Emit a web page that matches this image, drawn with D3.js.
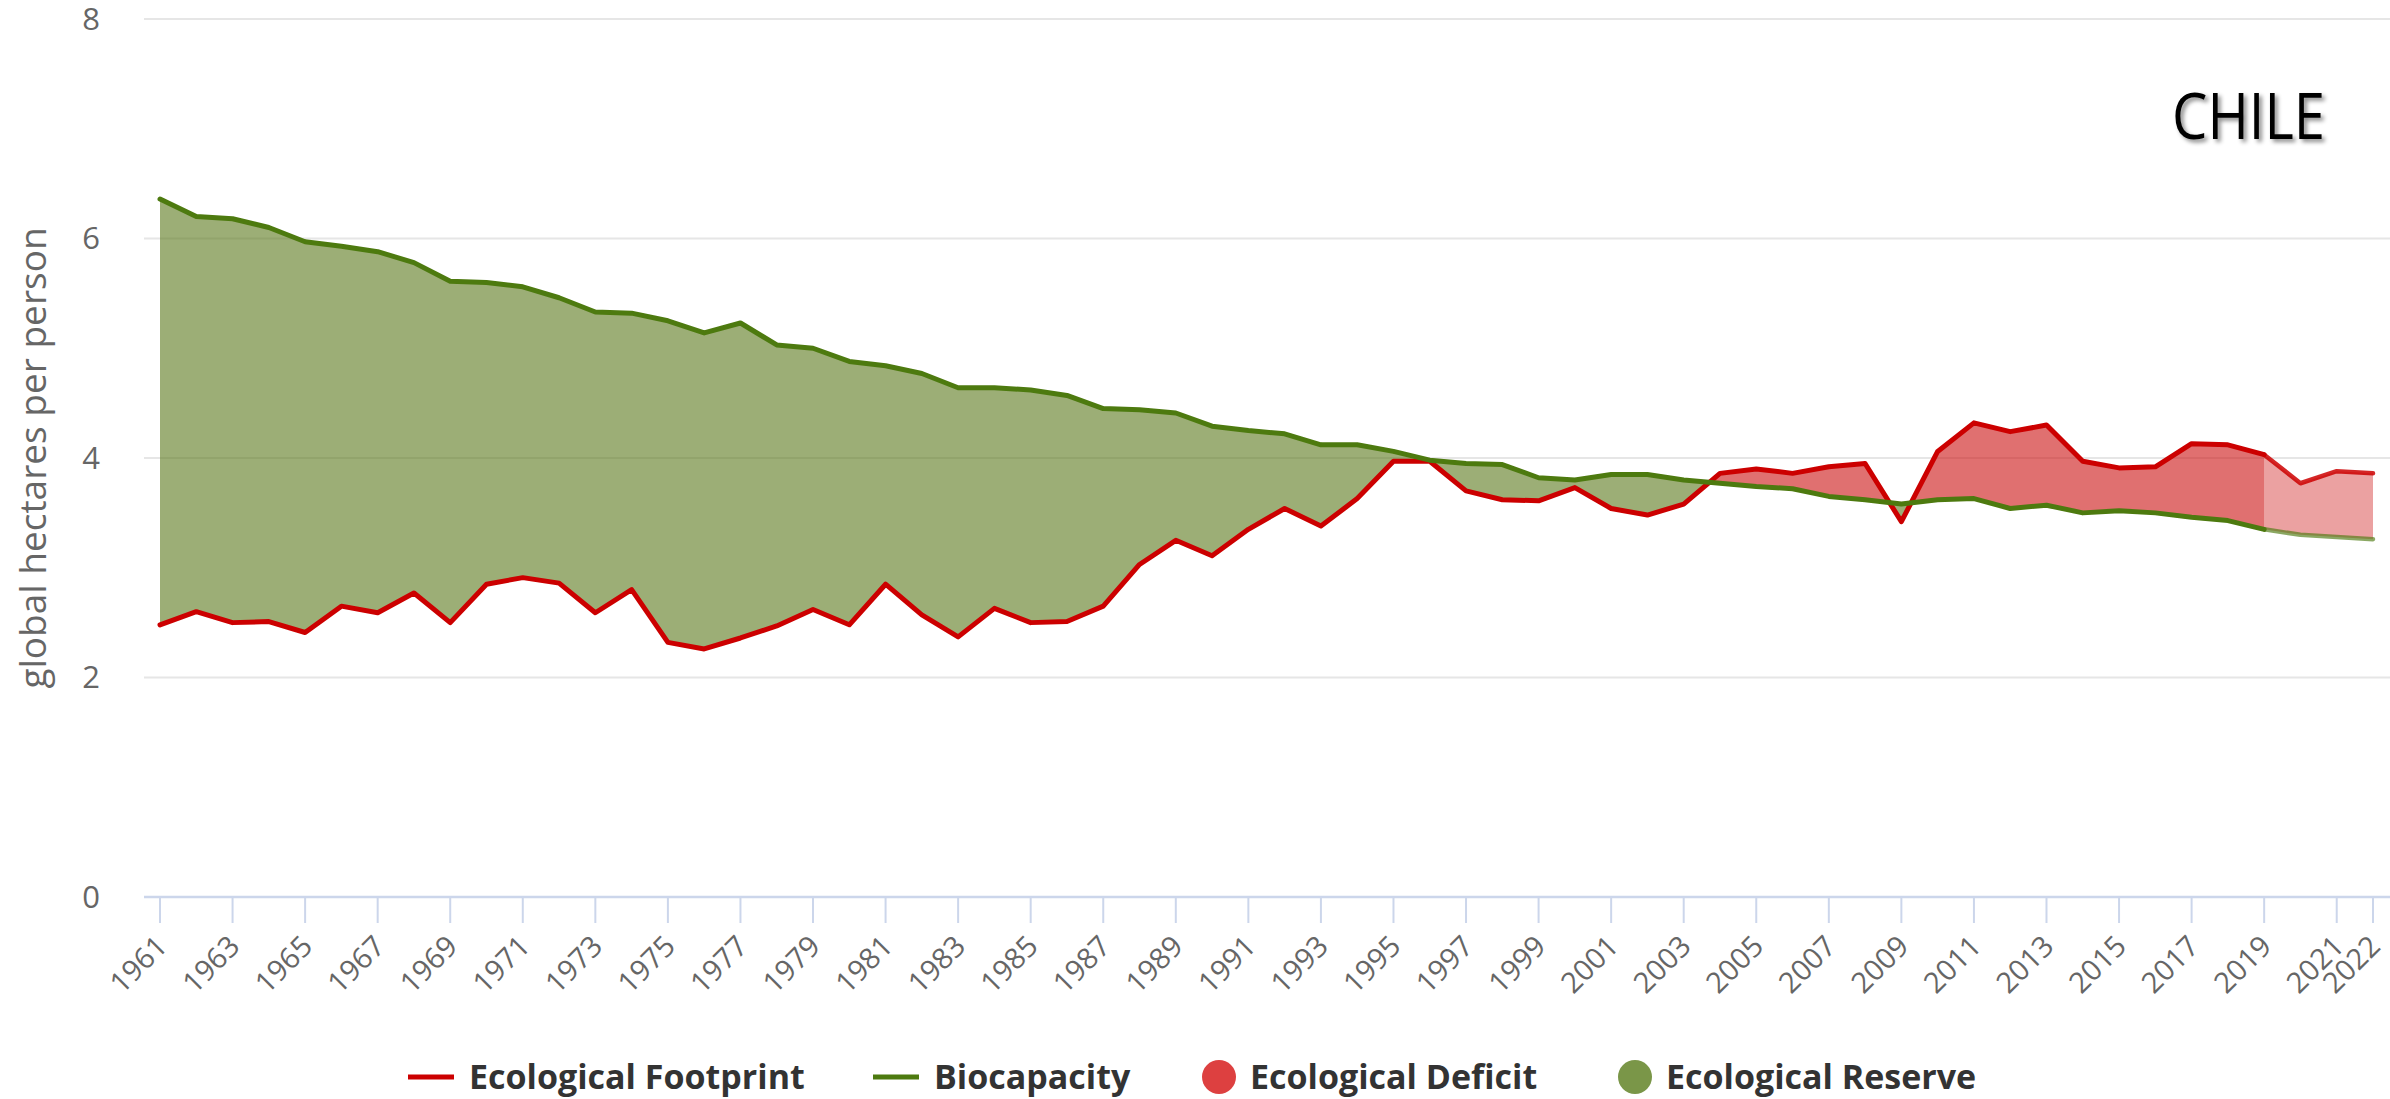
<!DOCTYPE html>
<html>
<head>
<meta charset="utf-8">
<script src="https://cdn.jsdelivr.net/npm/d3@7"></script>
<style>
  html, body { margin: 0; padding: 0; background: #fff; }
  svg { display: block; }
  text { font-family: "Open Sans", "Noto Sans", sans-serif; }
</style>
</head>
<body>
<svg id="chart" width="2390" height="1099"></svg>
<script>
// ---- Data ----
const years = d3.range(1961, 2023);
const footprint = [
  2.48, 2.60, 2.50, 2.51, 2.41, 2.65, 2.59, 2.77, 2.50, 2.85,
  2.91, 2.86, 2.59, 2.80, 2.32, 2.26, 2.36, 2.47, 2.62, 2.48,
  2.85, 2.57, 2.37, 2.63, 2.50, 2.51, 2.65, 3.03, 3.25, 3.11,
  3.35, 3.54, 3.38, 3.63, 3.97, 3.97, 3.70, 3.62, 3.61, 3.73,
  3.54, 3.48, 3.58, 3.86, 3.90, 3.86, 3.92, 3.95, 3.42, 4.06,
  4.32, 4.24, 4.30, 3.97, 3.91, 3.92, 4.13, 4.12, 4.03, 3.77,
  3.88, 3.86
];
const biocapacity = [
  6.36, 6.20, 6.18, 6.10, 5.97, 5.93, 5.88, 5.78, 5.61, 5.60,
  5.56, 5.46, 5.33, 5.32, 5.25, 5.14, 5.23, 5.03, 5.00, 4.88,
  4.84, 4.77, 4.64, 4.64, 4.62, 4.57, 4.45, 4.44, 4.41, 4.29,
  4.25, 4.22, 4.12, 4.12, 4.06, 3.98, 3.95, 3.94, 3.82, 3.80,
  3.85, 3.85, 3.80, 3.77, 3.74, 3.72, 3.65, 3.62, 3.58, 3.62,
  3.63, 3.54, 3.57, 3.50, 3.52, 3.50, 3.46, 3.43, 3.35, 3.30,
  3.28, 3.26
];
const projectionStart = 2019;
const xTickLabels = d3.range(1961, 2022, 2).concat([2022]);
const yTicks = [0, 2, 4, 6, 8];
const legendItems = ["Ecological Footprint", "Biocapacity", "Ecological Deficit", "Ecological Reserve"];
const countryName = "CHILE";
const yAxisTitle = "global hectares per person";

// ---- Setup ----
const svg = d3.select("#chart");
const x = d3.scaleLinear().domain([1961, 2022]).range([160, 2373]);
const y = d3.scaleLinear().domain([0, 8]).range([897, 19]);
const plotLeft = 144, plotRight = 2390;

const data = years.map((yr, i) => ({ year: yr, fp: footprint[i], bc: biocapacity[i] }));

const defs = svg.append("defs");

// Gridlines
svg.append("g").selectAll("line").data(yTicks.filter(d => d > 0)).join("line")
  .attr("x1", plotLeft).attr("x2", plotRight)
  .attr("y1", d => y(d)).attr("y2", d => y(d))
  .attr("stroke", "#e6e6e6").attr("stroke-width", 2);

// Clip paths for fill regions
const areaBelow = (acc) => d3.area().x(d => x(d.year)).y0(1050).y1(d => y(acc(d)));
const areaAbove = (acc) => d3.area().x(d => x(d.year)).y0(d => y(acc(d))).y1(-50);

defs.append("clipPath").attr("id", "belowBio").append("path").attr("d", areaBelow(d => d.bc)(data));
defs.append("clipPath").attr("id", "aboveBio").append("path").attr("d", areaAbove(d => d.bc)(data));
defs.append("clipPath").attr("id", "belowFp").append("path").attr("d", areaBelow(d => d.fp)(data));
defs.append("clipPath").attr("id", "aboveFp").append("path").attr("d", areaAbove(d => d.fp)(data));

// Reserve (green) fill
const gOuter = svg.append("g").attr("clip-path", "url(#belowBio)");
const gInner = gOuter.append("g").attr("clip-path", "url(#aboveFp)");
gInner.append("rect").attr("x", x(1961)).attr("y", 0)
  .attr("width", x(projectionStart) - x(1961)).attr("height", 1000)
  .attr("fill", "#5a781b").attr("fill-opacity", 0.6);
gInner.append("rect").attr("x", x(projectionStart)).attr("y", 0)
  .attr("width", x(2022) - x(projectionStart)).attr("height", 1000)
  .attr("fill", "#5a781b").attr("fill-opacity", 0.35);

// Deficit (red) fill
const rOuter = svg.append("g").attr("clip-path", "url(#aboveBio)");
const rInner = rOuter.append("g").attr("clip-path", "url(#belowFp)");
rInner.append("rect").attr("x", x(1961)).attr("y", 0)
  .attr("width", x(projectionStart) - x(1961)).attr("height", 1000)
  .attr("fill", "#cc1111").attr("fill-opacity", 0.6);
rInner.append("rect").attr("x", x(projectionStart)).attr("y", 0)
  .attr("width", x(2022) - x(projectionStart)).attr("height", 1000)
  .attr("fill", "#c80000").attr("fill-opacity", 0.37);

// X axis line & ticks
svg.append("line").attr("x1", plotLeft).attr("x2", plotRight)
  .attr("y1", y(0)).attr("y2", y(0))
  .attr("stroke", "#ccd6eb").attr("stroke-width", 2.5);

const xAxis = svg.append("g");
xAxis.selectAll("line.tick").data(xTickLabels).join("line")
  .attr("class", "tick")
  .attr("x1", d => x(d)).attr("x2", d => x(d))
  .attr("y1", y(0)).attr("y2", y(0) + 26)
  .attr("stroke", "#ccd6eb").attr("stroke-width", 2);
xAxis.selectAll("text").data(xTickLabels).join("text")
  .attr("transform", d => `translate(${x(d) + 9},${y(0) + 51}) rotate(-45)`)
  .attr("text-anchor", "end")
  .attr("font-size", 29)
  .attr("fill", "#666")
  .text(d => d);

// Y axis labels
svg.append("g").selectAll("text").data(yTicks).join("text")
  .attr("x", 100).attr("y", d => y(d))
  .attr("dy", "0.35em")
  .attr("text-anchor", "end")
  .attr("font-size", 31)
  .attr("fill", "#666")
  .text(d => d);

// Y axis title
svg.append("text")
  .attr("transform", `translate(46,${(y(0) + y(8)) / 2}) rotate(-90)`)
  .attr("text-anchor", "middle")
  .attr("font-size", 37)
  .attr("fill", "#666")
  .text(yAxisTitle);

// Lines
const line = d3.line().x(d => x(d.year));
const main = data.filter(d => d.year <= projectionStart);
const proj = data.filter(d => d.year >= projectionStart);

svg.append("path").attr("d", line.y(d => y(d.fp))(main))
  .attr("fill", "none").attr("stroke", "#cc0000").attr("stroke-width", 5)
  .attr("stroke-linejoin", "round").attr("stroke-linecap", "round");
svg.append("path").attr("d", line.y(d => y(d.fp))(proj))
  .attr("fill", "none").attr("stroke", "#cc0000").attr("stroke-width", 4.5)
  .attr("stroke-opacity", 0.85)
  .attr("stroke-linejoin", "round").attr("stroke-linecap", "round");
svg.append("path").attr("d", line.y(d => y(d.bc))(main))
  .attr("fill", "none").attr("stroke", "#4d7a0f").attr("stroke-width", 5)
  .attr("stroke-linejoin", "round").attr("stroke-linecap", "round");
svg.append("path").attr("d", line.y(d => y(d.bc))(proj))
  .attr("fill", "none").attr("stroke", "#4d7a0f").attr("stroke-width", 4.5)
  .attr("stroke-opacity", 0.65)
  .attr("stroke-linejoin", "round").attr("stroke-linecap", "round");

// Legend
const legY = 1077;
const legend = svg.append("g");
const symbols = [
  { type: "line", color: "#cc0000", sx: 408, tx: 469 },
  { type: "line", color: "#4d7a0f", sx: 873, tx: 934 },
  { type: "circle", color: "#dd4040", sx: 1219, tx: 1250 },
  { type: "circle", color: "#7a9648", sx: 1635, tx: 1666 }
];
legendItems.forEach((label, i) => {
  const s = symbols[i];
  if (s.type === "line") {
    legend.append("line").attr("x1", s.sx).attr("x2", s.sx + 46)
      .attr("y1", legY).attr("y2", legY)
      .attr("stroke", s.color).attr("stroke-width", 5);
  } else {
    legend.append("circle").attr("cx", s.sx).attr("cy", legY).attr("r", 17)
      .attr("fill", s.color);
  }
  legend.append("text").attr("x", s.tx).attr("y", legY).attr("dy", "0.35em")
    .attr("font-size", 34).attr("font-weight", "bold").attr("fill", "#333")
    .text(label);
});

// Country label with shadow
const f = defs.append("filter").attr("id", "shadow").attr("x", "-10%").attr("y", "-20%")
  .attr("width", "130%").attr("height", "150%");
f.append("feDropShadow").attr("dx", 3).attr("dy", 3).attr("stdDeviation", 2)
  .attr("flood-color", "#000").attr("flood-opacity", 0.45);
svg.append("text")
  .attr("x", 2172).attr("y", 139)
  .attr("font-family", "Lato, 'Open Sans', sans-serif")
  .attr("font-size", 64)
  .attr("fill", "#000")
  .attr("textLength", 153).attr("lengthAdjust", "spacingAndGlyphs")
  .attr("filter", "url(#shadow)")
  .text(countryName);
</script>
</body>
</html>
